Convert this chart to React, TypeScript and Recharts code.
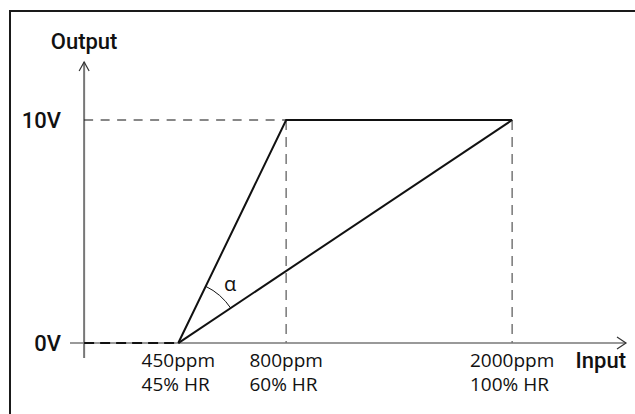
import { ComposedChart, Line, XAxis, YAxis, ReferenceLine, ReferenceDot } from "recharts";

// schematic position of each marked input on the horizontal axis (the drawing is not to scale)
const inputPos = [2.2, 4.72, 10];
const ppmLabels = ["450ppm", "800ppm", "2000ppm"];
const hrLabels = ["45% HR", "60% HR", "100% HR"];
// output voltage reached at each marked input
const outputVolts = [0, 10, 10];
const voltTicks = [0, 10];
const voltLabels = ["0V", "10V"];

const X_DOMAIN: [number, number] = [-0.33, 12.66];
const Y_DOMAIN: [number, number] = [-0.67, 12.6];

const W = 635;
const H = 414;
const MARGIN = { top: 62, right: 9, bottom: 16, left: 0 };
const Y_AXIS_W = 70;
const X_AXIS_H = 40;
const PLOT_W = W - MARGIN.left - MARGIN.right - Y_AXIS_W;
const PLOT_H = H - MARGIN.top - MARGIN.bottom - X_AXIS_H;

const TITLE_FONT = "Roboto, 'DejaVu Sans', sans-serif";
const TITLE_WEIGHT = 500;
const TITLE_SIZE = 22;
const LABEL_FONT = "'Open Sans', sans-serif";
const LABEL_SIZE = 19;
const INK = "#111";
const AXIS = "#777";

// steep response: 450ppm -> 10V at 800ppm, then flat to 2000ppm
const steepData = inputPos.map((x, i) => ({ x, y: outputVolts[i] }));
// shallow response: 450ppm -> 10V at 2000ppm
const shallowData = [
  { x: inputPos[0], y: outputVolts[0] },
  { x: inputPos[2], y: outputVolts[2] },
];

let ctx: CanvasRenderingContext2D | null = null;
function textWidth(s: string, font: string) {
  if (!ctx) ctx = document.createElement("canvas").getContext("2d");
  if (!ctx) return s.length * 10;
  ctx.font = font;
  return ctx.measureText(s).width;
}

function arrowPath(x1: number, y1: number, x2: number, y2: number, len = 9, half = 5.5) {
  const a = Math.atan2(y2 - y1, x2 - x1);
  const bx = x2 - len * Math.cos(a);
  const by = y2 - len * Math.sin(a);
  const px = -Math.sin(a) * half;
  const py = Math.cos(a) * half;
  return `M${bx + px},${by + py} L${x2},${y2} L${bx - px},${by - py}`;
}

function InputTick(props: any) {
  const { x, y, payload } = props;
  const i = inputPos.indexOf(payload.value);
  if (i < 0) return null;
  const w = textWidth(ppmLabels[i], `${LABEL_SIZE}px ${LABEL_FONT}`);
  const start = x - w / 2;
  return (
    <g fontFamily={LABEL_FONT} fontSize={LABEL_SIZE} fill={INK}>
      <text x={start} y={y + 9} textAnchor="start">{ppmLabels[i]}</text>
      <text x={start} y={y + 33} textAnchor="start">{hrLabels[i]}</text>
    </g>
  );
}

function VoltTick(props: any) {
  const { x, y, payload } = props;
  const i = voltTicks.indexOf(payload.value);
  if (i < 0) return null;
  return (
    <text x={x} y={y + 8} textAnchor="end" fontFamily={TITLE_FONT} fontWeight={TITLE_WEIGHT} fontSize={TITLE_SIZE} fill={INK}>
      {voltLabels[i]}
    </text>
  );
}

function AngleMark(props: any) {
  const { cx, cy } = props;
  const kx = PLOT_W / (X_DOMAIN[1] - X_DOMAIN[0]);
  const ky = PLOT_H / (Y_DOMAIN[1] - Y_DOMAIN[0]);
  const rise = (outputVolts[1] - outputVolts[0]) * ky;
  const a1 = Math.atan2(rise, (inputPos[1] - inputPos[0]) * kx);
  const a2 = Math.atan2(rise, (inputPos[2] - inputPos[0]) * kx);
  const r = 63;
  const p1 = [cx + r * Math.cos(a1), cy - r * Math.sin(a1)];
  const p2 = [cx + r * Math.cos(a2), cy - r * Math.sin(a2)];
  const mid = (a1 + a2) / 2;
  return (
    <g>
      <path d={`M${p1[0]},${p1[1]} A${r},${r} 0 0 1 ${p2[0]},${p2[1]}`} fill="none" stroke={INK} strokeWidth={1} />
      <text
        x={cx + 79 * Math.cos(mid)}
        y={cy - 79 * Math.sin(mid)}
        textAnchor="middle"
        dominantBaseline="central"
        fontFamily={LABEL_FONT}
        fontSize={20}
        fill={INK}
      >
        α
      </text>
    </g>
  );
}

export default function App() {
  return (
    <div style={{ position: "absolute", left: 0, top: 0, width: W, height: H, overflow: "hidden", background: "#fff" }}>
      <div
        style={{
          position: "absolute",
          left: 9,
          top: 10,
          width: 700,
          height: 500,
          border: "2px solid #1a1a1a",
          boxSizing: "border-box",
        }}
      />
      <div style={{ position: "absolute", left: 0, top: 0 }}>
        <ComposedChart width={W} height={H} margin={MARGIN}>
          <XAxis
            dataKey="x"
            type="number"
            domain={X_DOMAIN}
            ticks={inputPos}
            height={X_AXIS_H}
            axisLine={false}
            tickLine={false}
            tickSize={0}
            tickMargin={0}
            tick={<InputTick />}
            interval={0}
          />
          <YAxis
            type="number"
            domain={Y_DOMAIN}
            ticks={voltTicks}
            width={Y_AXIS_W}
            axisLine={false}
            tickLine={false}
            tickSize={0}
            tickMargin={9}
            tick={<VoltTick />}
            interval={0}
          />
          {/* axes with open arrow heads */}
          <ReferenceLine
            segment={[{ x: 0, y: Y_DOMAIN[0] }, { x: 0, y: Y_DOMAIN[1] }]}
            ifOverflow="visible"
            shape={(p: any) => (
              <g>
                <line x1={p.x1} y1={p.y1} x2={p.x2} y2={p.y2} stroke={AXIS} strokeWidth={2} />
                <path d={arrowPath(p.x1, p.y1, p.x2, p.y2, 9, 5)} fill="none" stroke="#333" strokeWidth={1.2} />
                <text x={p.x2} y={p.y2 - 13} textAnchor="middle" fontFamily={TITLE_FONT} fontWeight={TITLE_WEIGHT} fontSize={TITLE_SIZE} fill={INK}>
                  Output
                </text>
              </g>
            )}
          />
          <ReferenceLine
            segment={[{ x: X_DOMAIN[0], y: 0 }, { x: X_DOMAIN[1], y: 0 }]}
            ifOverflow="visible"
            shape={(p: any) => (
              <g>
                <line x1={p.x1} y1={p.y1} x2={p.x2} y2={p.y2} stroke={AXIS} strokeWidth={1.5} />
                <path d={arrowPath(p.x1, p.y1, p.x2, p.y2, 9, 6)} fill="none" stroke="#333" strokeWidth={1.2} />
                <text x={p.x2} y={p.y2 + 25} textAnchor="end" fontFamily={TITLE_FONT} fontWeight={TITLE_WEIGHT} fontSize={TITLE_SIZE} fill={INK}>
                  Input
                </text>
              </g>
            )}
          />
          {/* guide lines */}
          <ReferenceLine
            segment={[{ x: 0, y: outputVolts[0] }, { x: inputPos[0], y: outputVolts[0] }]}
            ifOverflow="visible"
            stroke={INK}
            strokeWidth={2}
            strokeDasharray="10 6"
          />
          <ReferenceLine
            segment={[{ x: 0, y: outputVolts[1] }, { x: inputPos[1], y: outputVolts[1] }]}
            ifOverflow="visible"
            stroke={INK}
            strokeWidth={1.2}
            strokeDasharray="9 7.5"
          />
          <ReferenceLine
            segment={[{ x: inputPos[1], y: outputVolts[1] }, { x: inputPos[1], y: 0 }]}
            ifOverflow="visible"
            stroke={AXIS}
            strokeWidth={1.5}
            strokeDasharray="10 7"
          />
          <ReferenceLine
            segment={[{ x: inputPos[2], y: outputVolts[2] }, { x: inputPos[2], y: 0 }]}
            ifOverflow="visible"
            stroke={AXIS}
            strokeWidth={1.5}
            strokeDasharray="10 7"
          />
          <Line
            data={steepData}
            dataKey="y"
            type="linear"
            stroke={INK}
            strokeWidth={2}
            dot={false}
            activeDot={false}
            isAnimationActive={false}
          />
          <Line
            data={shallowData}
            dataKey="y"
            type="linear"
            stroke={INK}
            strokeWidth={2}
            dot={false}
            activeDot={false}
            isAnimationActive={false}
          />
          <ReferenceDot x={inputPos[0]} y={outputVolts[0]} ifOverflow="visible" shape={<AngleMark />} />
        </ComposedChart>
      </div>
    </div>
  );
}
